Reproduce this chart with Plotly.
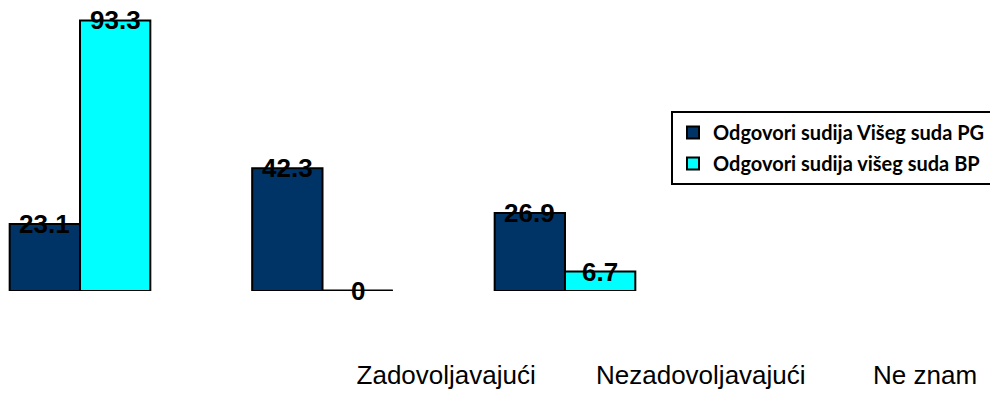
import plotly.graph_objects as go

# Data
positions = [0, 1, 2]
series_names = ["Odgovori sudija Višeg suda PG", "Odgovori sudija višeg suda BP"]
pg_values = [23.1, 42.3, 26.9]
bp_values = [93.3, 0, 6.7]
tick_labels = ["Zadovoljavajući", "Nezadovoljavajući", "Ne znam"]

colors = ["#003366", "#00FFFF"]
bargap = 0.42
bar_w = (1 - bargap) / 2

fig = go.Figure()
for name, vals, col in zip(series_names, [pg_values, bp_values], colors):
    fig.add_trace(go.Bar(
        x=positions, y=vals, name=name, legendgroup=name,
        marker=dict(color=col, line=dict(color="black", width=2)),
    ))

annotations = []
shapes = []
for k, vals in enumerate([pg_values, bp_values]):
    offset = (k - 0.5) * bar_w
    for xp, v in zip(positions, vals):
        annotations.append(dict(
            x=xp + offset, y=v, xref="x", yref="y", text=f"{v:g}",
            showarrow=False, yanchor="middle", xanchor="center",
            font=dict(family="Liberation Sans, Arial", size=26, color="black", weight="bold"),
        ))
        if v == 0:
            shapes.append(dict(type="line", xref="x", yref="y",
                               x0=xp + offset - bar_w / 2, x1=xp + offset + bar_w / 2,
                               y0=0, y1=0, line=dict(color="black", width=3)))

fig.update_layout(
    width=990, height=396,
    autosize=False,
    margin=dict(l=0, r=0, t=0, b=113, pad=0),
    paper_bgcolor="white", plot_bgcolor="white",
    barmode="group", bargap=bargap, bargroupgap=0,
    showlegend=True,
    legend=dict(
        x=984 / 990, y=0.636, xanchor="right", yanchor="top",
        bgcolor="white", bordercolor="black", borderwidth=2,
        font=dict(family="Lato, Liberation Sans", size=20, color="black", weight="bold"),
        traceorder="grouped", tracegroupgap=2,
    ),
    xaxis=dict(
        range=[-0.2969, 3.7856], showgrid=False, zeroline=False, showline=False,
        tickmode="array", tickvals=[1.51, 2.56, 3.485], ticktext=tick_labels,
        ticks="", ticklabelstandoff=66, automargin=False,
        tickfont=dict(family="Liberation Sans, Arial", size=26, color="black"),
    ),
    yaxis=dict(range=[0, 97.6], showgrid=False, zeroline=False, showline=False,
               showticklabels=False, ticks="", automargin=False),
    annotations=annotations, shapes=shapes,
)

fig.write_html("out.html")
